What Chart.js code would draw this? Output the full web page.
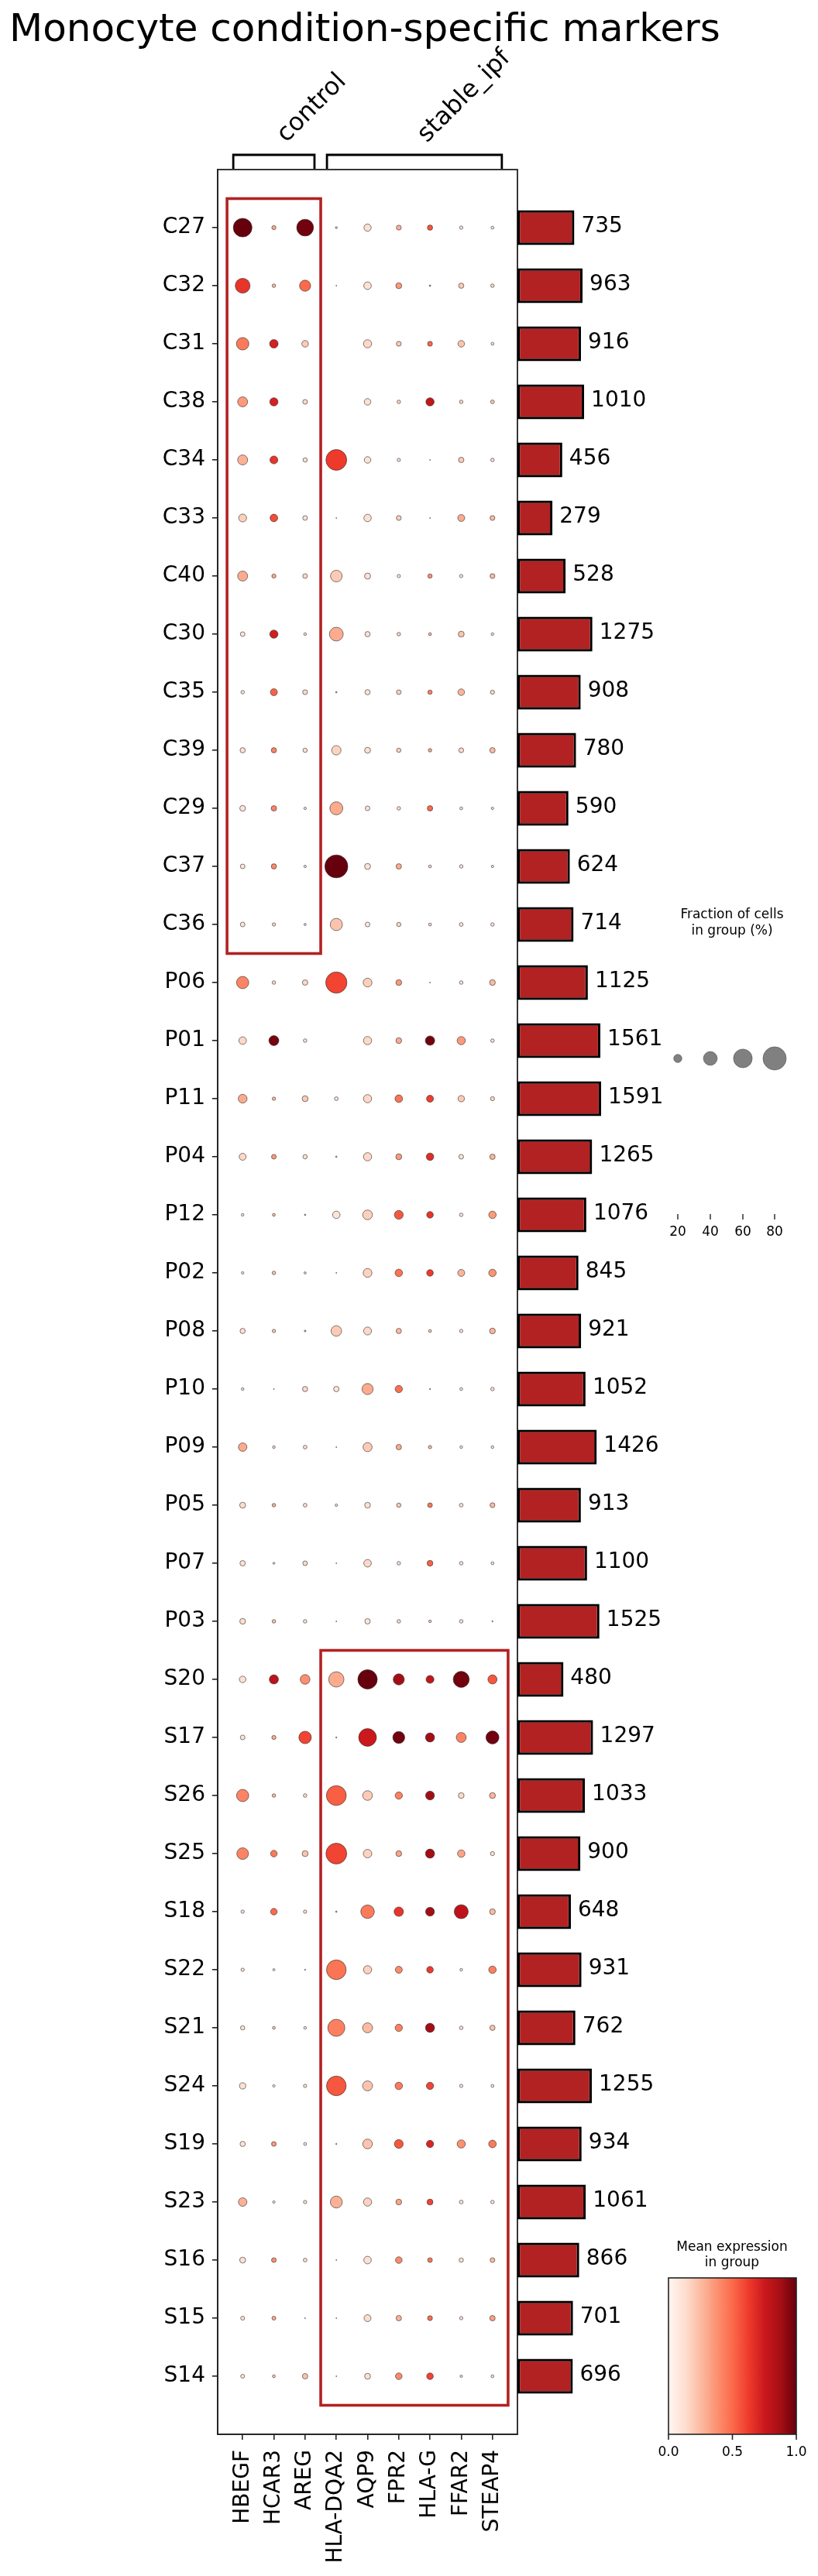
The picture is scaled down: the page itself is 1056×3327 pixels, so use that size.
<!DOCTYPE html>
<html>
<head>
<meta charset="utf-8">
<script src="https://cdn.jsdelivr.net/npm/chart.js@4.4.1/dist/chart.umd.min.js"></script>
<style>
  html, body { margin: 0; padding: 0; background: #ffffff; }
  #wrap { position: relative; width: 1056px; height: 3327px; }
  canvas { position: absolute; left: 0; top: 0; }
</style>
</head>
<body>
<div id="wrap">
  <canvas id="dots" width="1056" height="3327"></canvas>
  <canvas id="bars" width="1056" height="3327"></canvas>
</div>
<script>
// ---------------- DATA ----------------
const title = 'Monocyte condition-specific markers';
const genes = ['HBEGF', 'HCAR3', 'AREG', 'HLA-DQA2', 'AQP9', 'FPR2', 'HLA-G', 'FFAR2', 'STEAP4'];
const groups = ['C27','C32','C31','C38','C34','C33','C40','C30','C35','C39','C29','C37','C36',
  'P06','P01','P11','P04','P12','P02','P08','P10','P09','P05','P07','P03',
  'S20','S17','S26','S25','S18','S22','S21','S24','S19','S23','S16','S15','S14'];
const totals = [735,963,916,1010,456,279,528,1275,908,780,590,624,714,
  1125,1561,1591,1265,1076,845,921,1052,1426,913,1100,1525,
  480,1297,1033,900,648,931,762,1255,934,1061,866,701,696];

// Fraction of cells in group (%), one row per group, columns in gene order
const fractionPct = [
  [60, 8, 52, 3, 17, 10, 11, 6, 5],
  [44, 6.5, 30, 1, 18, 13, 2, 11, 6.5],
  [35, 21, 15, 0, 20, 10, 10, 15, 5],
  [26, 20, 9.5, 0, 15, 6.5, 20, 6.5, 7],
  [26, 19, 8.5, 69, 15, 6, 1, 11.5, 6.5],
  [19, 18, 9.5, 1, 17.5, 10, 1, 16, 10],
  [26, 8, 9.5, 32, 13.5, 6, 8.5, 6, 10],
  [9.5, 20, 4.5, 40, 11, 6.5, 5, 13, 4.5],
  [6.5, 16, 10, 2, 11, 9.5, 8.5, 15, 8],
  [11, 11, 8.5, 24, 13, 8.5, 6.5, 10, 11.5],
  [12.5, 11.5, 4, 37, 9.5, 6.5, 11.5, 5, 4],
  [9.5, 11, 4, 79, 13, 11.5, 5, 6.5, 4],
  [9.5, 6, 3.5, 34, 9.5, 8.5, 5, 7, 6.5],
  [34, 6.5, 11.5, 71, 22, 12.5, 1, 6.5, 12.5],
  [18, 26, 6.5, 0, 20, 12.5, 24, 20, 6.5],
  [22, 6, 13, 7, 20, 18, 16, 14, 8],
  [16, 9.5, 8.5, 2, 20, 13, 17.5, 9.5, 11.5],
  [4.5, 5, 2, 17.5, 25, 22, 15, 6.5, 17.5],
  [4, 6.5, 3.5, 1, 22, 17.5, 15, 16, 17.5],
  [11, 6, 2.5, 28, 19, 11, 5, 6, 12.5],
  [4.5, 1, 11, 11.5, 30, 17, 1.5, 5, 6.5],
  [21, 4.5, 7, 1, 23, 11.5, 6, 4.5, 4.5],
  [13, 6.5, 7, 4, 12.5, 8.5, 9.5, 7, 10],
  [11.5, 3, 9.5, 1, 18, 6.5, 12.5, 6.5, 5],
  [12.5, 6.5, 6.5, 1, 11.5, 6.5, 4.5, 6.5, 1.5],
  [15, 23, 25, 46, 63, 30, 19, 49, 23],
  [9.5, 8, 35, 1.5, 56, 33, 23, 26, 37],
  [34, 6.5, 6.5, 65, 25, 17, 22, 12.5, 13],
  [32, 15, 13, 69, 21, 12.5, 23, 17.5, 8],
  [6, 15, 6, 2, 39, 24, 22, 41, 12.5],
  [6, 3.5, 1.5, 64, 20, 16, 15, 4.5, 17.5],
  [8.5, 5, 4.5, 53, 26, 17, 23, 6.5, 11],
  [14, 4, 6, 64, 26, 17.5, 17, 6, 5],
  [11, 9.5, 5, 1.5, 25, 22, 17, 20, 18],
  [21, 4, 6, 33, 20, 12.5, 13, 7, 6.5],
  [13, 9.5, 7, 1, 18, 15, 9.5, 8.5, 9.5],
  [7.5, 7.5, 1, 1, 16, 11.5, 10, 6, 11.5],
  [7.5, 5, 11.5, 1, 13, 15, 15, 4, 5]
];

// Mean expression in group (0..1), same layout
const meanExpr = [
  [1.0, 0.3, 0.98, 0.15, 0.13, 0.28, 0.55, 0.1, 0.1],
  [0.65, 0.25, 0.5, 0.3, 0.12, 0.35, 0.4, 0.2, 0.15],
  [0.45, 0.72, 0.2, 0, 0.15, 0.2, 0.5, 0.22, 0.1],
  [0.35, 0.72, 0.15, 0, 0.12, 0.15, 0.78, 0.15, 0.2],
  [0.28, 0.65, 0.12, 0.63, 0.12, 0.1, 0.3, 0.2, 0.12],
  [0.18, 0.58, 0.12, 0.2, 0.12, 0.18, 0.3, 0.3, 0.25],
  [0.3, 0.3, 0.15, 0.2, 0.12, 0.1, 0.38, 0.1, 0.25],
  [0.1, 0.73, 0.12, 0.3, 0.12, 0.15, 0.25, 0.22, 0.12],
  [0.1, 0.52, 0.15, 0.3, 0.1, 0.18, 0.42, 0.27, 0.15],
  [0.12, 0.42, 0.12, 0.17, 0.12, 0.18, 0.3, 0.15, 0.25],
  [0.1, 0.42, 0.1, 0.3, 0.1, 0.12, 0.5, 0.1, 0.1],
  [0.1, 0.4, 0.1, 1.0, 0.1, 0.3, 0.15, 0.1, 0.1],
  [0.1, 0.15, 0.1, 0.22, 0.08, 0.15, 0.15, 0.1, 0.1],
  [0.42, 0.15, 0.15, 0.6, 0.18, 0.35, 0.3, 0.1, 0.25],
  [0.15, 0.97, 0.1, 0, 0.15, 0.3, 0.98, 0.35, 0.12],
  [0.3, 0.25, 0.2, 0.1, 0.15, 0.47, 0.62, 0.2, 0.15],
  [0.15, 0.35, 0.12, 0.3, 0.15, 0.35, 0.68, 0.12, 0.27],
  [0.1, 0.25, 0.3, 0.1, 0.18, 0.55, 0.65, 0.1, 0.35],
  [0.1, 0.22, 0.1, 0.3, 0.17, 0.47, 0.63, 0.27, 0.37],
  [0.12, 0.2, 0.3, 0.2, 0.15, 0.25, 0.2, 0.1, 0.27],
  [0.1, 0.3, 0.15, 0.1, 0.3, 0.48, 0.3, 0.1, 0.12],
  [0.3, 0.15, 0.12, 0.3, 0.2, 0.3, 0.25, 0.1, 0.1],
  [0.13, 0.28, 0.12, 0.1, 0.12, 0.2, 0.45, 0.1, 0.25],
  [0.12, 0.12, 0.15, 0.3, 0.15, 0.1, 0.52, 0.1, 0.1],
  [0.13, 0.22, 0.1, 0.3, 0.1, 0.12, 0.2, 0.1, 0.3],
  [0.12, 0.8, 0.38, 0.3, 1.0, 0.88, 0.78, 0.98, 0.55],
  [0.1, 0.3, 0.6, 0.3, 0.75, 0.98, 0.88, 0.42, 0.98],
  [0.42, 0.25, 0.12, 0.53, 0.2, 0.43, 0.88, 0.15, 0.27],
  [0.42, 0.45, 0.22, 0.6, 0.17, 0.32, 0.88, 0.32, 0.12],
  [0.1, 0.5, 0.12, 0.3, 0.45, 0.65, 0.88, 0.8, 0.25],
  [0.1, 0.1, 0.2, 0.47, 0.17, 0.4, 0.63, 0.1, 0.43],
  [0.1, 0.2, 0.1, 0.43, 0.25, 0.43, 0.88, 0.1, 0.22],
  [0.12, 0.1, 0.1, 0.55, 0.22, 0.45, 0.6, 0.1, 0.1],
  [0.1, 0.35, 0.1, 0.3, 0.22, 0.55, 0.7, 0.38, 0.45],
  [0.28, 0.12, 0.1, 0.28, 0.17, 0.32, 0.6, 0.1, 0.1],
  [0.12, 0.38, 0.12, 0.3, 0.12, 0.4, 0.45, 0.12, 0.25],
  [0.1, 0.3, 0.3, 0.3, 0.14, 0.27, 0.48, 0.1, 0.33],
  [0.1, 0.2, 0.22, 0.3, 0.12, 0.4, 0.6, 0.15, 0.12]
];

// gene groups (brackets on top)
const varGroupLabels = ['control', 'stable_ipf'];
const varGroupStart = [0, 3];
const varGroupEnd = [2, 8];
// highlighted blocks (red boxes)
const boxGeneStart = [0, 3];
const boxGeneEnd = [2, 8];
const boxRowStart = [0, 25];
const boxRowEnd = [12, 37];

// legends
const sizeLegendPct = [20, 40, 60, 80];
const colorbarTicks = [0.0, 0.5, 1.0];
const dotMaxPct = 80;

// ---------------- HELPERS ----------------
const FONT = "'DejaVu Sans', 'Liberation Sans', sans-serif";
Chart.defaults.font.family = FONT;
Chart.defaults.color = '#000';

const redsStops = [
  [255,245,240],[254,224,210],[252,187,161],[252,146,114],[251,106,74],
  [239,59,44],[203,24,29],[165,15,21],[103,0,13]
];
function reds(v) {
  v = Math.max(0, Math.min(1, v));
  const p = v * (redsStops.length - 1);
  const i = Math.min(Math.floor(p), redsStops.length - 2);
  const t = p - i;
  const a = redsStops[i], b = redsStops[i + 1];
  const c = a.map((x, k) => Math.round(x + (b[k] - x) * t));
  return `rgb(${c[0]},${c[1]},${c[2]})`;
}
const MAX_R = 15; // px radius for dotMaxPct
function dotRadius(pct) {
  if (pct <= 0) return 0;
  return MAX_R * Math.pow(pct / dotMaxPct, 0.75);
}

// sqrt scale for the totals bars
class SqrtScale extends Chart.LinearScale {
  getPixelForValue(value) {
    const m = Math.sqrt(this.max);
    return this.getPixelForDecimal(Math.sqrt(Math.max(0, value)) / m);
  }
  getValueForPixel(pixel) {
    const d = this.getDecimalForPixel(pixel);
    return Math.pow(d * Math.sqrt(this.max), 2);
  }
}
SqrtScale.id = 'sqrt';
SqrtScale.defaults = {};
Chart.register(SqrtScale);

// ---------------- DOT PLOT ----------------
const points = [];
groups.forEach((g, i) => {
  genes.forEach((gene, j) => {
    points.push({ x: j, y: i, r: dotRadius(fractionPct[i][j]), v: meanExpr[i][j] });
  });
});

const decorPlugin = {
  id: 'decor',
  afterDatasetsDraw(chart) {
    const ctx = chart.ctx;
    const xs = chart.scales.x, ys = chart.scales.y;
    const ca = chart.chartArea;
    ctx.save();
    ctx.strokeStyle = '#b22222';
    ctx.lineWidth = 3.6;
    for (let k = 0; k < boxGeneStart.length; k++) {
      const x0 = xs.getPixelForValue(boxGeneStart[k] - 0.5);
      const x1 = xs.getPixelForValue(boxGeneEnd[k] + 0.5);
      const y0 = ys.getPixelForValue(boxRowStart[k] - 0.5);
      const y1 = ys.getPixelForValue(boxRowEnd[k] + 0.5);
      ctx.strokeRect(x0, y0, x1 - x0, y1 - y0);
    }
    ctx.strokeStyle = '#222';
    ctx.lineWidth = 1.8;
    ctx.strokeRect(ca.left, ca.top, ca.right - ca.left, ca.bottom - ca.top);
    ctx.restore();
  },
  afterDraw(chart) {
    const ctx = chart.ctx;
    const xs = chart.scales.x;
    const ca = chart.chartArea;
    ctx.save();
    // title
    ctx.fillStyle = '#000';
    ctx.font = `50px ${FONT}`;
    ctx.textAlign = 'left';
    ctx.textBaseline = 'alphabetic';
    ctx.fillText(title, 12, 53);

    // brackets + group labels
    ctx.strokeStyle = '#000';
    ctx.lineWidth = 2.8;
    for (let k = 0; k < varGroupLabels.length; k++) {
      const x0 = xs.getPixelForValue(varGroupStart[k] - 0.3);
      const x1 = xs.getPixelForValue(varGroupEnd[k] + 0.3);
      const yb = ca.top - 1, yt = ca.top - 19;
      ctx.beginPath();
      ctx.moveTo(x0, yb); ctx.lineTo(x0, yt); ctx.lineTo(x1, yt); ctx.lineTo(x1, yb);
      ctx.stroke();
      const cx = (xs.getPixelForValue(varGroupStart[k]) + xs.getPixelForValue(varGroupEnd[k])) / 2;
      ctx.save();
      ctx.translate(cx + 16, ca.top - 34);
      ctx.rotate(-Math.PI / 4);
      ctx.font = `32px ${FONT}`;
      ctx.textAlign = 'left';
      ctx.textBaseline = 'alphabetic';
      ctx.fillText(varGroupLabels[k], 0, 0);
      ctx.restore();
    }

    // size legend
    const lx = 945;
    ctx.font = `17px ${FONT}`;
    ctx.textAlign = 'center';
    ctx.textBaseline = 'middle';
    ctx.fillStyle = '#000';
    ctx.fillText('Fraction of cells', lx, 1182);
    ctx.fillText('in group (%)', lx, 1203);
    const dxs = [875, 917, 959, 1000];
    sizeLegendPct.forEach((p, i) => {
      const r = dotRadius(p);
      ctx.beginPath();
      ctx.arc(dxs[i], 1367, r, 0, Math.PI * 2);
      ctx.fillStyle = '#808080';
      ctx.fill();
      ctx.lineWidth = 0.7;
      ctx.strokeStyle = 'rgba(70,70,70,0.8)';
      ctx.stroke();
      ctx.strokeStyle = '#222';
      ctx.lineWidth = 1.4;
      ctx.beginPath();
      ctx.moveTo(dxs[i], 1568); ctx.lineTo(dxs[i], 1575);
      ctx.stroke();
      ctx.fillStyle = '#000';
      ctx.fillText(String(p), dxs[i], 1592);
    });

    // colorbar
    ctx.fillText('Mean expression', lx, 2903);
    ctx.fillText('in group', lx, 2923);
    const cbx0 = 863, cbx1 = 1028, cby0 = 2942, cby1 = 3144;
    const grad = ctx.createLinearGradient(cbx0, 0, cbx1, 0);
    for (let s = 0; s <= 32; s++) grad.addColorStop(s / 32, reds(s / 32));
    ctx.fillStyle = grad;
    ctx.fillRect(cbx0, cby0, cbx1 - cbx0, cby1 - cby0);
    ctx.strokeStyle = '#222';
    ctx.lineWidth = 1.6;
    ctx.strokeRect(cbx0, cby0, cbx1 - cbx0, cby1 - cby0);
    ctx.fillStyle = '#000';
    colorbarTicks.forEach(t => {
      const x = cbx0 + (cbx1 - cbx0) * t;
      ctx.beginPath();
      ctx.moveTo(x, cby1); ctx.lineTo(x, cby1 + 7);
      ctx.stroke();
      ctx.fillText(t.toFixed(1), x, 3168);
    });
    ctx.restore();
  }
};

const axisGrid = { display: true, drawOnChartArea: false, drawTicks: true, tickLength: 7, color: '#222', lineWidth: 1.6 };
const axisBorder = { display: true, color: '#222', width: 1.6 };

new Chart(document.getElementById('dots').getContext('2d'), {
  type: 'bubble',
  data: {
    datasets: [{
      data: points,
      backgroundColor: (c) => reds(c.raw ? c.raw.v : 0),
      borderColor: 'rgba(40,40,40,0.85)',
      borderWidth: 0.7,
      hoverBorderWidth: 0.7
    }]
  },
  options: {
    responsive: false,
    animation: false,
    events: [],
    layout: { padding: { left: 0, top: 219, right: 388, bottom: 0 } },
    plugins: { legend: { display: false }, tooltip: { enabled: false } },
    scales: {
      x: {
        type: 'linear', position: 'bottom', min: -0.8, max: 8.8,
        afterFit: (s) => { s.height = 183; },
        afterBuildTicks: (s) => { s.ticks = genes.map((g, i) => ({ value: i })); },
        ticks: {
          callback: (v) => genes[Math.round(v)],
          autoSkip: false, minRotation: 90, maxRotation: 90, padding: 13,
          color: '#000', font: { size: 28 }
        },
        grid: axisGrid,
        border: axisBorder
      },
      y: {
        type: 'linear', min: -1, max: groups.length, reverse: true,
        afterFit: (s) => { s.width = 281; },
        afterBuildTicks: (s) => { s.ticks = groups.map((g, i) => ({ value: i })); },
        ticks: {
          callback: (v) => groups[Math.round(v)],
          autoSkip: false, padding: 9, color: '#000', font: { size: 28 }
        },
        grid: axisGrid,
        border: axisBorder
      }
    }
  },
  plugins: [decorPlugin]
});

// ---------------- TOTALS BARS ----------------
const barLabelPlugin = {
  id: 'barLabels',
  afterDatasetsDraw(chart) {
    const ctx = chart.ctx;
    const meta = chart.getDatasetMeta(0);
    ctx.save();
    ctx.font = `28px ${FONT}`;
    ctx.fillStyle = '#000';
    ctx.textAlign = 'left';
    ctx.textBaseline = 'middle';
    meta.data.forEach((el, i) => {
      ctx.fillText(String(totals[i]), el.x + 9, el.y - 1);
    });
    ctx.restore();
  }
};

new Chart(document.getElementById('bars').getContext('2d'), {
  type: 'bar',
  data: {
    labels: groups,
    datasets: [{
      data: totals,
      backgroundColor: '#b22222',
      borderColor: '#000',
      borderWidth: 3.2,
      borderSkipped: false,
      barPercentage: 0.6,
      categoryPercentage: 1.0
    }]
  },
  options: {
    indexAxis: 'y',
    responsive: false,
    animation: false,
    events: [],
    layout: { padding: { left: 668, right: 0, top: 256.5, bottom: 220.5 } },
    plugins: { legend: { display: false }, tooltip: { enabled: false } },
    scales: {
      x: { type: 'sqrt', min: 0, max: 20500, display: false },
      y: { type: 'category', display: false, offset: true }
    }
  },
  plugins: [barLabelPlugin]
});
</script>
</body>
</html>
